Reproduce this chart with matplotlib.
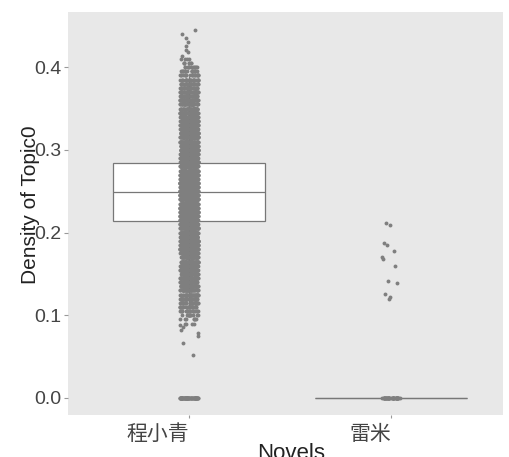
import matplotlib
matplotlib.use('Agg')
import matplotlib.pyplot as plt
import numpy as np
import pandas as pd
import seaborn as sns

novels = ['程小青', '雷米']

# 程小青: dense core, read as (level, count) off the picture
cheng_levels = [0.090, 0.095, 0.100, 0.105, 0.110, 0.115, 0.120, 0.125, 0.130, 0.135,
                0.140, 0.145, 0.150, 0.155, 0.160, 0.165, 0.170, 0.175, 0.180, 0.185,
                0.190, 0.195, 0.200, 0.205, 0.210, 0.215, 0.220, 0.225, 0.230, 0.235,
                0.240, 0.245, 0.250, 0.255, 0.260, 0.265, 0.270, 0.275, 0.280, 0.285,
                0.290, 0.295, 0.300, 0.305, 0.310, 0.315, 0.320, 0.325, 0.330, 0.335,
                0.340, 0.345, 0.350, 0.355, 0.360, 0.365, 0.370, 0.375, 0.380, 0.385,
                0.390, 0.395, 0.400, 0.405, 0.410]
cheng_counts = [4, 7, 12, 16, 22, 28, 34, 40, 44, 48,
                52, 56, 60, 64, 68, 72, 76, 80, 84, 88,
                92, 96, 100, 104, 108, 110, 112, 114, 116, 118,
                120, 120, 120, 118, 116, 114, 112, 110, 108, 104,
                100, 96, 92, 88, 84, 80, 76, 72, 68, 64,
                60, 56, 52, 48, 44, 40, 36, 32, 28, 24,
                20, 15, 11, 7, 4]
cheng_sparse = [0.052, 0.067, 0.075, 0.079, 0.082, 0.086, 0.088,
                0.413, 0.418, 0.421, 0.425, 0.430, 0.435, 0.440, 0.445]
cheng_zero_count = 60

# 雷米: almost all zero, a handful between 0.12 and 0.21
leimi_sparse = [0.211, 0.209, 0.187, 0.185, 0.178, 0.170, 0.168,
                0.160, 0.142, 0.139, 0.126, 0.122, 0.120]
leimi_zero_count = 40

# box statistics (q1, median, q3, whiskers)
box_q1 = [0.214, 0.0]
box_med = [0.249, 0.0]
box_q3 = [0.284, 0.0]
box_whislo = [0.112, 0.0]
box_whishi = [0.388, 0.0]

y_ticks = [0.0, 0.1, 0.2, 0.3, 0.4]

plt.rcParams['font.family'] = ['Liberation Sans', 'Noto Sans CJK SC', 'DejaVu Sans']

cheng_vals = np.concatenate([np.repeat(cheng_levels, cheng_counts), cheng_sparse,
                             np.zeros(cheng_zero_count)])
leimi_vals = np.concatenate([leimi_sparse, np.zeros(leimi_zero_count)])
dframe = pd.DataFrame({
    'novel': [novels[0]] * len(cheng_vals) + [novels[1]] * len(leimi_vals),
    'density': np.concatenate([cheng_vals, leimi_vals]),
})

fig = plt.figure(figsize=(5.1, 4.57), dpi=100)
ax = fig.add_axes([68 / 510, 1 - 415 / 457, 435 / 510, 403 / 457])
ax.set_facecolor('#e8e8e8')
for side in ax.spines.values():
    side.set_visible(False)

stats = []
for i in range(len(novels)):
    stats.append({'q1': box_q1[i], 'med': box_med[i], 'q3': box_q3[i],
                  'whislo': box_whislo[i], 'whishi': box_whishi[i], 'fliers': []})
line_props = {'color': '#777777', 'linewidth': 0.9}
ax.bxp(stats, positions=[0, 1], widths=0.75, patch_artist=True, showcaps=False,
       boxprops={'facecolor': 'white', 'edgecolor': '#777777', 'linewidth': 0.9},
       medianprops=line_props, whiskerprops=line_props, zorder=1)

sns.stripplot(data=dframe, x='novel', y='density', order=novels, color='#7f7f7f',
              size=2.8, jitter=0.045, linewidth=0, zorder=3, ax=ax)

ax.set_xlim(-0.6, 1.555)
ax.set_ylim(-0.0206, 0.4667)
ax.set_yticks(y_ticks)
ax.set_yticklabels(['%.1f' % t for t in y_ticks])
ax.set_xticks([0, 1])
ax.set_xticklabels(novels, fontsize=15, ha='right')
ax.tick_params(axis='y', labelsize=14, length=3, pad=1.5, color='#999999', labelcolor='#444444')
ax.tick_params(axis='x', length=2, pad=5, color='#999999', labelcolor='#444444')
ax.grid(False)

ax.set_xlabel('Novels', fontsize=16, color='#222222')
ax.set_ylabel('Density of Topic0', fontsize=15, color='#222222')
ax.xaxis.set_label_coords(0.513, -0.0695)
ax.yaxis.set_label_coords(-0.064, 0.521)

fig.savefig('out.png', dpi=100)
